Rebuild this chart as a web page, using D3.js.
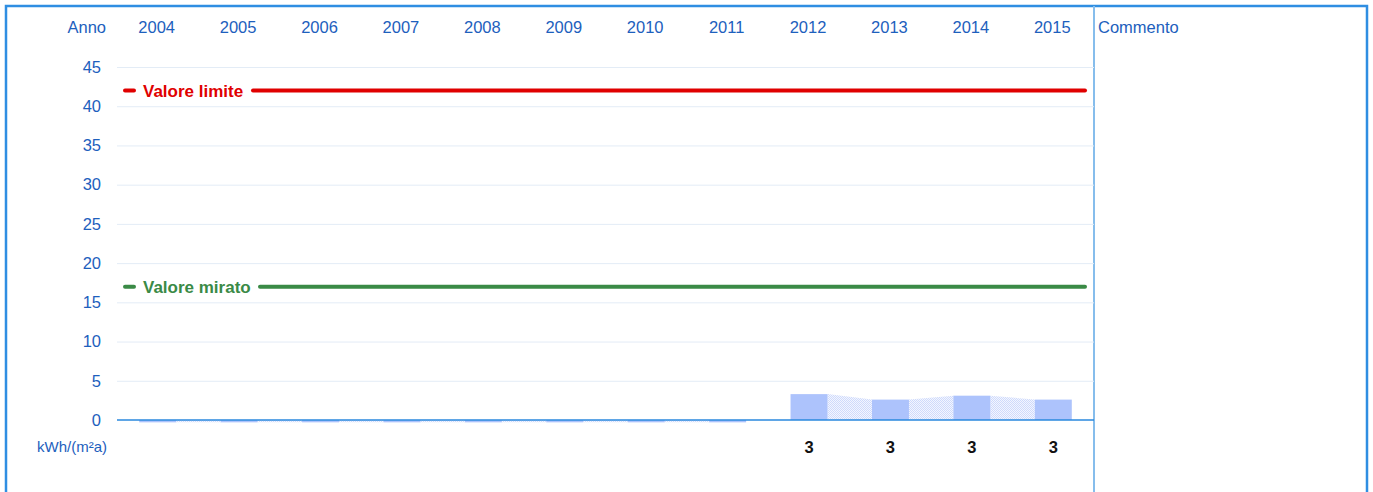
<!DOCTYPE html>
<html>
<head>
<meta charset="utf-8">
<script src="https://cdn.jsdelivr.net/npm/d3@7"></script>
<style>
  body { margin: 0; background: #fff; }
  svg { display: block; font-family: "Liberation Sans", Arial, sans-serif; }
</style>
</head>
<body>
<script>
const years = ['2004', '2005', '2006', '2007', '2008', '2009', '2010', '2011', '2012', '2013', '2014', '2015'];
const values = [-0.3, -0.3, -0.3, -0.3, -0.3, -0.3, -0.3, -0.3, 3.3, 2.6, 3.1, 2.6];
const valueLabels = ['', '', '', '', '', '', '', '', '3', '3', '3', '3'];
const yTicks = [0, 5, 10, 15, 20, 25, 30, 35, 40, 45];
const refLines = [
  { name: 'Valore limite', value: 42, color: '#e00000', lineStart: 253 },
  { name: 'Valore mirato', value: 17, color: '#3a8a46', lineStart: 260 },
];

const W = 1373, H = 492;
const left = 117, right = 1094;
const textBlue = '#1d60bd';

const x = d3.scaleBand().domain(years).range([left, right]);
const y = d3.scaleLinear().domain([0, 45]).range([420, 67]);
const barW = 37;

const svg = d3.select('body').append('svg')
  .attr('width', W)
  .attr('height', H);

const defs = svg.append('defs');
const pat = defs.append('pattern')
  .attr('id', 'hatch')
  .attr('width', 2)
  .attr('height', 2)
  .attr('patternUnits', 'userSpaceOnUse');
pat.append('rect').attr('width', 2).attr('height', 2).attr('fill', '#f3f6ff');
pat.append('rect').attr('width', 1).attr('height', 1).attr('fill', '#cfdafb');
pat.append('rect').attr('x', 1).attr('y', 1).attr('width', 1).attr('height', 1).attr('fill', '#cfdafb');

// outer frame
svg.append('path')
  .attr('d', `M6,${H + 5}V6H1367V${H + 5}`)
  .attr('fill', 'none')
  .attr('stroke', '#2f8ee2')
  .attr('stroke-width', 2.5);

// separator
svg.append('line')
  .attr('x1', right).attr('x2', right)
  .attr('y1', 6).attr('y2', H)
  .attr('stroke', '#86bdec')
  .attr('stroke-width', 2);

// gridlines + y labels
const yAxis = svg.append('g')
  .attr('transform', `translate(${left},0)`)
  .call(d3.axisLeft(y).tickValues(yTicks).tickSize(-(right - left)).tickPadding(16));
yAxis.select('.domain').remove();
yAxis.selectAll('.tick line').attr('stroke', '#e3ecf6').attr('stroke-width', 1);
yAxis.selectAll('.tick text')
  .attr('fill', textBlue)
  .style('font-size', '16.5px')
  .style('font-family', '"Liberation Sans", Arial, sans-serif');
yAxis.selectAll('.tick').filter(d => d === 0).select('line').attr('stroke', 'none');

// year header
svg.append('text')
  .attr('x', 106).attr('y', 33)
  .attr('text-anchor', 'end')
  .attr('fill', textBlue)
  .style('font-size', '16.5px')
  .text('Anno');

svg.selectAll('.year')
  .data(years)
  .join('text')
  .attr('class', 'year')
  .attr('x', d => x(d) + x.bandwidth() / 2 - 1)
  .attr('y', 33)
  .attr('text-anchor', 'middle')
  .attr('fill', textBlue)
  .style('font-size', '16.5px')
  .text(d => d);

svg.append('text')
  .attr('x', 1098).attr('y', 33)
  .attr('fill', textBlue)
  .style('font-size', '16.5px')
  .text('Commento');

// hatched connections between bars
const pairs = d3.pairs(years.map((yr, i) => ({ yr, v: values[i] })))
  .filter(([a, b]) => Math.sign(a.v) === Math.sign(b.v));
const area = d3.area()
  .x(d => d.px)
  .y0(y(0))
  .y1(d => y(d.v));
svg.append('g')
  .selectAll('path')
  .data(pairs)
  .join('path')
  .attr('fill', 'url(#hatch)')
  .attr('d', ([a, b]) => area([
    { px: x(a.yr) + x.bandwidth() / 2 + barW / 2, v: a.v },
    { px: x(b.yr) + x.bandwidth() / 2 - barW / 2, v: b.v },
  ]));

// bars
svg.append('g')
  .selectAll('rect')
  .data(years)
  .join('rect')
  .attr('x', d => x(d) + x.bandwidth() / 2 - barW / 2)
  .attr('width', barW)
  .attr('y', (d, i) => Math.min(y(values[i]), y(0)))
  .attr('height', (d, i) => Math.abs(y(values[i]) - y(0)))
  .attr('fill', '#adc3fc');

// baseline
svg.append('line')
  .attr('x1', left).attr('x2', right)
  .attr('y1', y(0)).attr('y2', y(0))
  .attr('stroke', '#2a88de')
  .attr('stroke-width', 1.5);

// reference lines
refLines.forEach(r => {
  const g = svg.append('g');
  g.append('line')
    .attr('x1', 125).attr('x2', 134)
    .attr('y1', y(r.value)).attr('y2', y(r.value))
    .attr('stroke', r.color).attr('stroke-width', 4).attr('stroke-linecap', 'round');
  g.append('line')
    .attr('x1', r.lineStart).attr('x2', 1085)
    .attr('y1', y(r.value)).attr('y2', y(r.value))
    .attr('stroke', r.color).attr('stroke-width', 4).attr('stroke-linecap', 'round');
  g.append('text')
    .attr('x', 143)
    .attr('y', y(r.value))
    .attr('dy', '0.36em')
    .attr('fill', r.color)
    .style('font-size', '17px')
    .style('font-weight', 'bold')
    .text(r.name);
});

// unit + value labels
svg.append('text')
  .attr('x', 107).attr('y', 452)
  .attr('text-anchor', 'end')
  .attr('fill', textBlue)
  .style('font-size', '15px')
  .text('kWh/(m²a)');

svg.selectAll('.vlabel')
  .data(years)
  .join('text')
  .attr('class', 'vlabel')
  .attr('x', d => x(d) + x.bandwidth() / 2)
  .attr('y', 453)
  .attr('text-anchor', 'middle')
  .attr('fill', '#111')
  .style('font-size', '16.5px')
  .style('font-weight', 'bold')
  .text((d, i) => valueLabels[i]);
</script>
</body>
</html>
